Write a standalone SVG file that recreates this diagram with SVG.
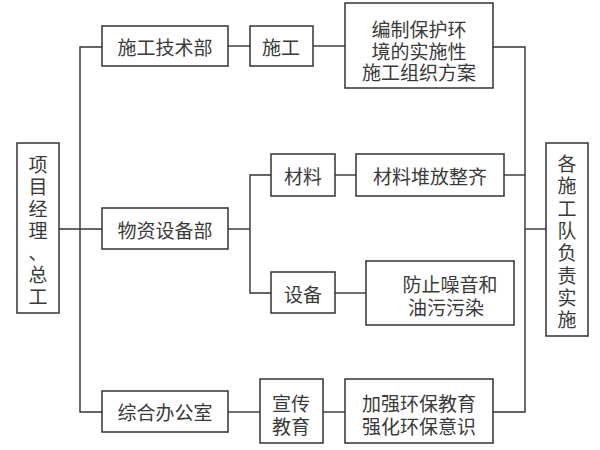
<svg xmlns="http://www.w3.org/2000/svg" width="600" height="450" viewBox="0 0 600 450">
<style>
.box{fill:#fff;stroke:#333;stroke-width:1.5}
.ln{fill:none;stroke:#333;stroke-width:1.4}
text{font-family:"Noto Sans CJK SC","Noto Sans",sans-serif;font-size:19px;fill:#3a3a3a;text-anchor:middle;dominant-baseline:central}
</style>
<rect width="600" height="450" fill="#fff"/>
<g id="connectors">
<path class="ln" d="M59,229 H102"/>
<path class="ln" d="M102,47 H80 V412 H102"/>
<path class="ln" d="M228,46 H250"/>
<path class="ln" d="M313,46 H345"/>
<path class="ln" d="M228,229 H250"/>
<path class="ln" d="M271,175 H250 V293 H271"/>
<path class="ln" d="M335,175 H356"/>
<path class="ln" d="M335,293 H366"/>
<path class="ln" d="M228,412 H260"/>
<path class="ln" d="M323,412 H345"/>
<path class="ln" d="M493,47 H525 V412 H493"/>
<path class="ln" d="M504,175 H525"/>
<path class="ln" d="M525,229 H546"/>
</g>
<g id="pm">
<rect class="box" x="17" y="143" width="42" height="170"/>
<text x="38" y="163">项</text><text x="38" y="185">目</text><text x="38" y="207">经</text><text x="38" y="229">理</text><text x="38" y="251">、</text><text x="38" y="273">总</text><text x="38" y="295">工</text>
</g>
<g id="tech">
<rect class="box" x="102" y="26" width="126" height="40"/>
<text x="165" y="46">施工技术部</text>
</g>
<g id="material-dept">
<rect class="box" x="102" y="208" width="126" height="41"/>
<text x="165" y="229">物资设备部</text>
</g>
<g id="office">
<rect class="box" x="102" y="391" width="126" height="41"/>
<text x="165" y="411">综合办公室</text>
</g>
<g id="construction">
<rect class="box" x="250" y="26" width="63" height="40"/>
<text x="281" y="46">施工</text>
</g>
<g id="plan">
<rect class="box" x="345" y="3" width="148" height="85"/>
<text x="419" y="28">编制保护环</text>
<text x="419" y="50">境的实施性</text>
<text x="419" y="71">施工组织方案</text>
</g>
<g id="materials">
<rect class="box" x="271" y="154" width="64" height="42"/>
<text x="303" y="175">材料</text>
</g>
<g id="stack">
<rect class="box" x="356" y="154" width="148" height="42"/>
<text x="430" y="175">材料堆放整齐</text>
</g>
<g id="equipment">
<rect class="box" x="271" y="272" width="64" height="41"/>
<text x="303" y="293">设备</text>
</g>
<g id="noise">
<rect class="box" x="366" y="261" width="148" height="64"/>
<text x="450" y="283">防止噪音和</text>
<text x="446" y="306">油污污染</text>
</g>
<g id="publicity">
<rect class="box" x="260" y="379" width="63" height="64"/>
<text x="291" y="402">宣传</text>
<text x="291" y="425">教育</text>
</g>
<g id="education">
<rect class="box" x="345" y="379" width="148" height="64"/>
<text x="419" y="402">加强环保教育</text>
<text x="419" y="425">强化环保意识</text>
</g>
<g id="teams">
<rect class="box" x="546" y="143" width="42" height="193"/>
<text x="567" y="162">各</text><text x="567" y="184">施</text><text x="567" y="207">工</text><text x="567" y="229">队</text><text x="567" y="251">负</text><text x="567" y="274">责</text><text x="567" y="296">实</text><text x="567" y="318">施</text>
</g>
</svg>
